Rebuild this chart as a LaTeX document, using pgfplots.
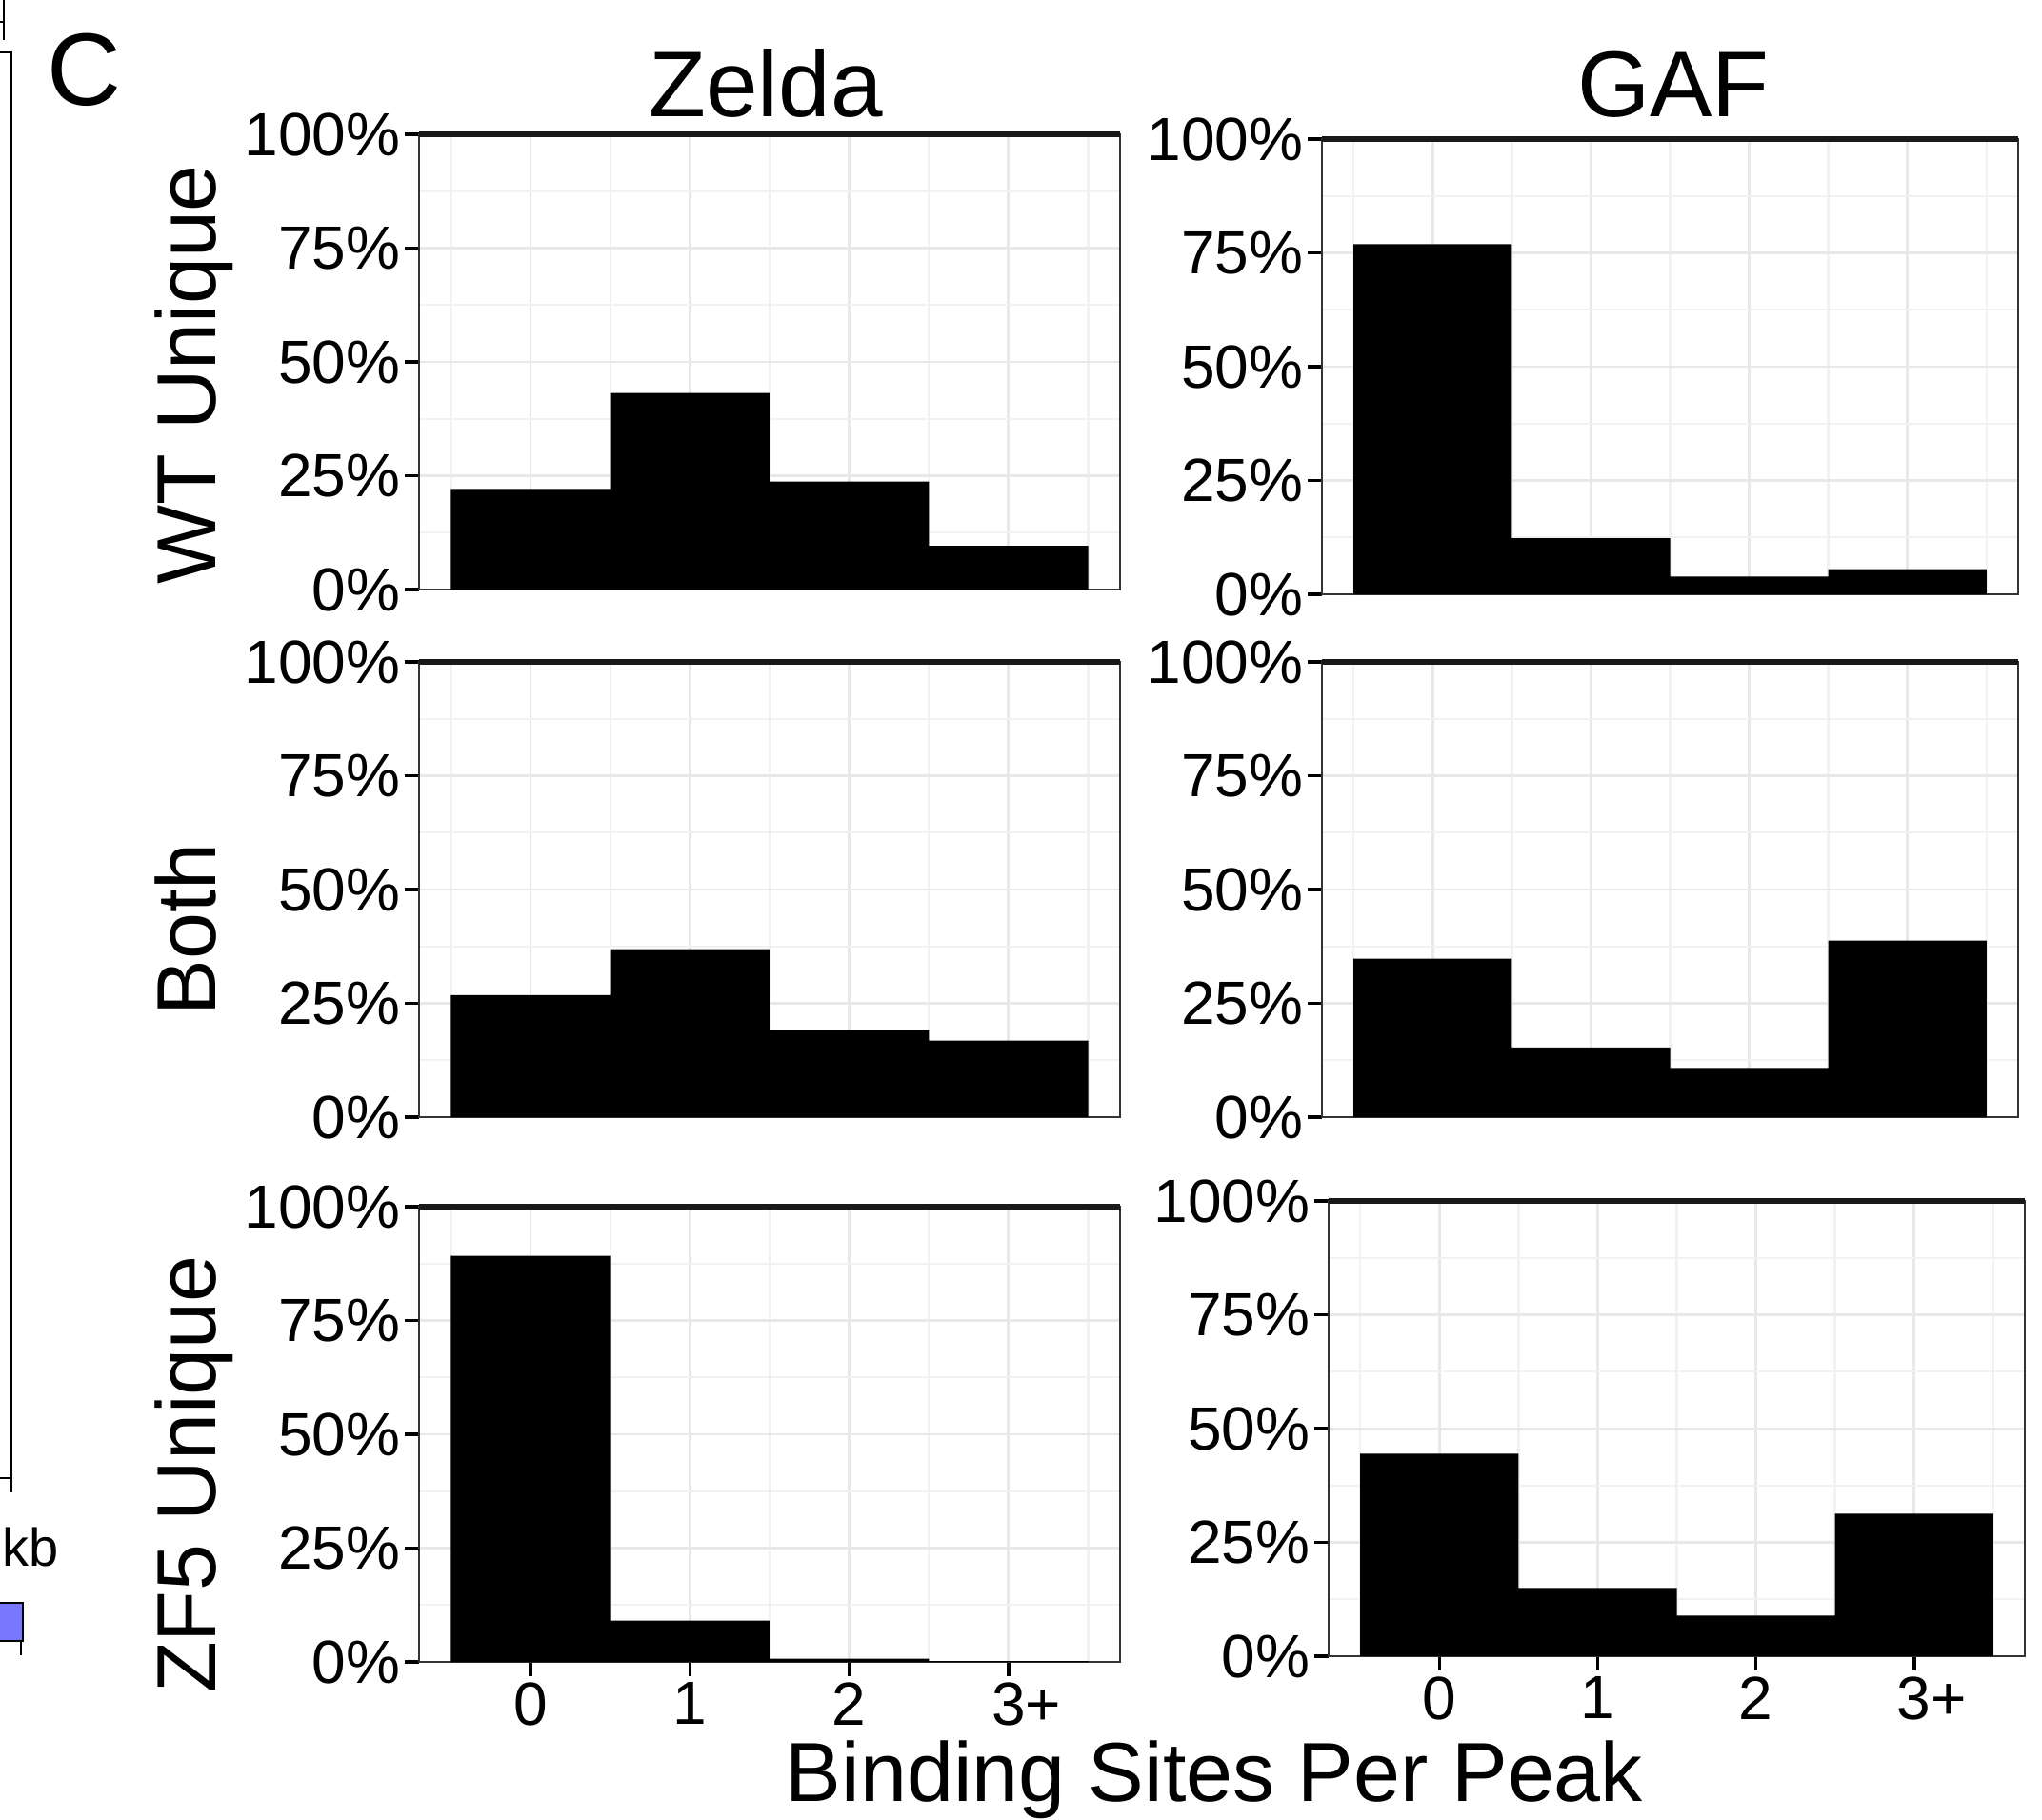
\documentclass[border=0pt]{standalone}
\usepackage{pgfplots}
\pgfplotsset{compat=1.18}
\usepackage{fontspec}
\setmainfont{Liberation Sans}
\newcommand{\fs}[1]{\fontsize{#1}{#1}\selectfont}
\pgfplotsset{
  panel/.style={
    scale only axis, width=184pt, height=119.5pt, anchor=south west,
    xmin=-0.7, xmax=3.7, ymin=0, ymax=1,
    xtick={0,1,2,3}, minor xtick={-0.5,0.5,1.5,2.5,3.5},
    ytick={0,0.25,0.5,0.75,1}, minor ytick={0.125,0.375,0.625,0.875},
    yticklabels={0\%,25\%,50\%,75\%,100\%},
    xticklabels={0,1,2,3\rlap{+}},
    grid=both,
    major grid style={black!9, line width=0.7pt},
    minor grid style={black!5, line width=0.6pt},
    tick align=outside, ytick pos=left, xtick pos=bottom,
    major tick length=3.75pt, minor tick length=0pt,
    tick style={black, line width=0.9pt},
    axis line style={black!80, line width=0.5pt},
    yticklabel style={font=\fs{16}, inner sep=1pt},
    xticklabel style={font=\fs{16}, inner sep=1.5pt},
    /pgf/number format/assume math mode=true,
    ybar, bar width=1, bar shift=0pt,
    after end axis/.code={\draw[line width=1.3pt, black!90] (rel axis cs:0,1) -- (rel axis cs:1,1);},
  },
  notx/.style={xmajorticks=false},
}
\begin{document}
\begin{tikzpicture}
\useasboundingbox (0,0) rectangle (536pt,-477.5pt);

% fragments of the neighbouring panel
\draw[line width=0.6pt] (0,-13.75pt) -- (3pt,-13.75pt) -- (3pt,-391.75pt);
\draw[line width=0.6pt] (0,-388pt) -- (3pt,-388pt);
\draw[line width=0.6pt] (1pt,0) -- (1pt,-10.5pt);
\draw[line width=0.6pt] (0,-5.75pt) -- (1.25pt,-5.75pt);
\node[anchor=base west, font=\fs{14}, inner sep=0pt] at (0.5pt,-411pt) {kb};
\draw[fill={rgb,255:red,120;green,120;blue,255}, line width=0.5pt] (-2pt,-420.75pt) rectangle (6pt,-430.75pt);
\draw[line width=0.6pt] (5.5pt,-430.75pt) -- (5.5pt,-434.5pt);

% panel letter and titles
\node[anchor=base, font=\fs{27}, inner sep=0pt] at (22pt,-27.5pt) {C};
\node[anchor=base, font=\fs{24.5}, inner sep=0pt] at (201pt,-30.5pt) {Zelda};
\node[anchor=base, font=\fs{24.5}, inner sep=0pt] at (439.25pt,-30.5pt) {GAF};
\node[rotate=90, anchor=base, font=\fs{22}, inner sep=0pt] at (56.5pt,-98.25pt) {WT Unique};
\node[rotate=90, anchor=base, font=\fs{22}, inner sep=0pt] at (56.5pt,-244pt) {Both};
\node[rotate=90, anchor=base, font=\fs{22}, inner sep=0pt] at (56.5pt,-387pt) {ZF5 Unique};
\node[anchor=base, font=\fs{22}, inner sep=0pt] at (318.75pt,-472.75pt) {Binding Sites Per Peak};

% row 1
\begin{axis}[panel, notx, at={(110pt,-154.75pt)}]
\addplot[fill=black, draw=none] coordinates {(0,0.221) (1,0.432) (2,0.237) (3,0.096)};
\end{axis}
\begin{axis}[panel, notx, width=182.75pt, at={(347pt,-156pt)}]
\addplot[fill=black, draw=none] coordinates {(0,0.769) (1,0.123) (2,0.039) (3,0.055)};
\end{axis}
% row 2
\begin{axis}[panel, notx, at={(110pt,-293.25pt)}]
\addplot[fill=black, draw=none] coordinates {(0,0.268) (1,0.369) (2,0.191) (3,0.168)};
\end{axis}
\begin{axis}[panel, notx, width=182.75pt, at={(347pt,-293.25pt)}]
\addplot[fill=black, draw=none] coordinates {(0,0.348) (1,0.153) (2,0.108) (3,0.388)};
\end{axis}
% row 3
\begin{axis}[panel, at={(110pt,-436.25pt)}]
\addplot[fill=black, draw=none] coordinates {(0,0.892) (1,0.091) (2,0.007) (3,0.002)};
\end{axis}
\begin{axis}[panel, width=182.75pt, at={(348.75pt,-434.75pt)}]
\addplot[fill=black, draw=none] coordinates {(0,0.445) (1,0.150) (2,0.089) (3,0.313)};
\end{axis}
\end{tikzpicture}
\end{document}
